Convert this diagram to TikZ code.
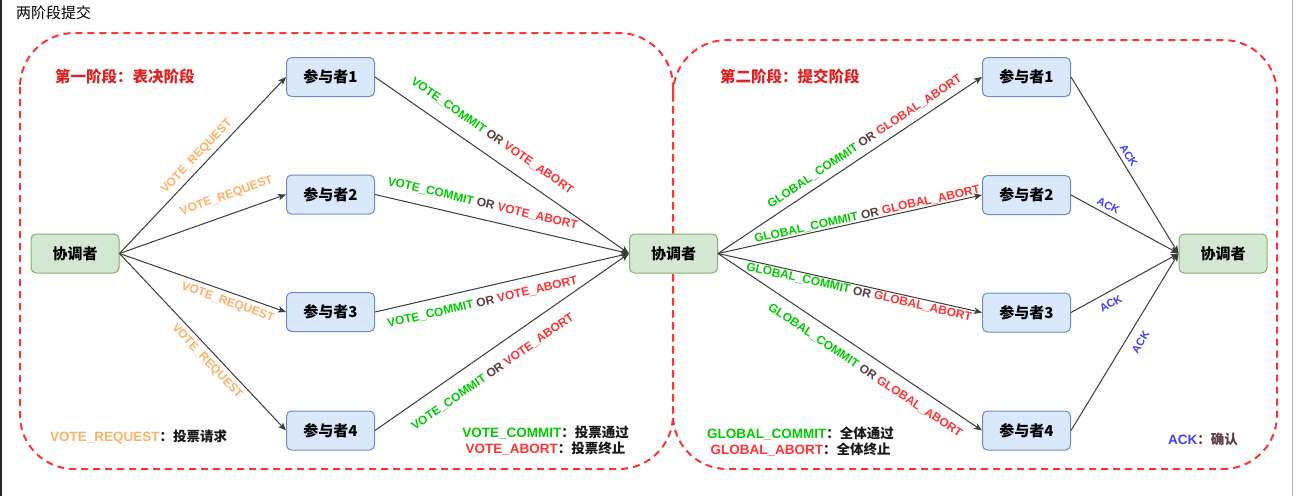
\documentclass[tikz,border=0pt]{standalone}
\usepackage{fontspec}
\setmainfont{Liberation Sans}
\newfontfamily\cjk{Noto Sans CJK SC}
\usetikzlibrary{arrows.meta}
\definecolor{vr}{HTML}{FFB066}
\definecolor{vc}{HTML}{00CC00}
\definecolor{va}{HTML}{FF3333}
\definecolor{orc}{HTML}{5C3D3D}
\definecolor{ackc}{HTML}{4040FF}
\definecolor{stagered}{HTML}{FF3333}
\definecolor{stagetxt}{HTML}{DD2222}
\definecolor{pfill}{HTML}{DAE8FC}
\definecolor{pdraw}{HTML}{6C8EBF}
\definecolor{cfill}{HTML}{D5E8D4}
\definecolor{cdraw}{HTML}{82B366}
\definecolor{linec}{HTML}{3C3C3C}
\newcommand\voteor{{\color{vc}VOTE\_COMMIT} {\color{orc}OR} {\color{va}VOTE\_ABORT}}
\newcommand\globalor{{\color{vc}GLOBAL\_COMMIT} {\color{orc}OR} {\color{va}GLOBAL\_ABORT}}
\begin{document}
\begin{tikzpicture}[x=1pt,y=-1pt,
  part/.style={draw=pdraw,fill=pfill,rounded corners=5pt,line width=1pt,minimum width=88pt,minimum height=39pt,inner sep=0pt,font=\cjk\bfseries\fontsize{15}{18}\selectfont},
  coordbox/.style={draw=cdraw,fill=cfill,rounded corners=5pt,line width=1pt,minimum width=88pt,minimum height=39pt,inner sep=0pt,font=\cjk\bfseries\fontsize{15}{18}\selectfont},
  flow/.style={draw=linec,line width=1pt,-{Stealth[length=8pt,width=6.5pt,inset=2pt]}},
  lbl/.style={sloped,inner sep=0pt,font=\bfseries\fontsize{12}{14}\selectfont},
  acklbl/.style={sloped,inner sep=0pt,text=ackc,font=\bfseries\fontsize{11}{13}\selectfont},
  stagebox/.style={draw=stagered,line width=2pt,dash pattern=on 7pt off 5pt,rounded corners=54pt},
  stagetitle/.style={anchor=west,inner sep=0pt,text=stagetxt,font=\cjk\bfseries\fontsize{15.5}{18}\selectfont},
  legend/.style={inner sep=0pt,font=\bfseries\fontsize{13.5}{16}\selectfont}
]
\useasboundingbox (0,0) rectangle (1296,496);
\fill[white] (0,0) rectangle (1296,496);
\draw[black!85,line width=2pt] (1,0) -- (1,496);
\draw[black!30,line width=1pt] (1292.5,0) -- (1292.5,496);

\node[anchor=west,inner sep=0pt,font=\cjk\fontsize{15}{18}\selectfont] (ttl) at (16,13) {两阶段提交};

\draw[stagebox] (20,33) rectangle (673,469);
\draw[stagebox] (673,40) rectangle (1277,469);

\node[stagetitle] (s1) at (55,77) {第一阶段：表决阶段};
\node[stagetitle] (s2) at (720,77) {第二阶段：提交阶段};

\node[coordbox] (c1) at (75,253.5) {协调者};
\node[coordbox] (c2) at (673.5,253.5) {协调者};
\node[coordbox] (c3) at (1223,253.5) {协调者};

\node[part] (a1) at (330.5,77) {参与者1};
\node[part] (a2) at (330.5,194.5) {参与者2};
\node[part] (a3) at (330.5,312) {参与者3};
\node[part] (a4) at (330.5,430.5) {参与者4};

\node[part] (b1) at (1026.5,77) {参与者1};
\node[part] (b2) at (1026.5,195) {参与者2};
\node[part] (b3) at (1026.5,312.5) {参与者3};
\node[part] (b4) at (1026.5,430.5) {参与者4};

% phase 1 requests
\draw[flow] (c1.east) -- node[lbl,pos=0.51,above=4.5pt,text=vr] {VOTE\_REQUEST} (a1.west);
\draw[flow] (c1.east) -- node[lbl,pos=0.68,above=12.5pt,text=vr] {VOTE\_REQUEST} (a2.west);
\draw[flow] (c1.east) -- node[lbl,pos=0.67,below=4.5pt,text=vr] {VOTE\_REQUEST} (a3.west);
\draw[flow] (c1.east) -- node[lbl,pos=0.57,below=4.5pt,text=vr] {VOTE\_REQUEST} (a4.west);

% phase 1 votes
\draw[flow] (a1.east) -- node[lbl,pos=0.42,above=13pt] {\voteor} (c2.west);
\draw[flow] (a2.east) -- node[lbl,pos=0.41,above=10pt] {\voteor} (c2.west);
\draw[flow] (a3.east) -- node[lbl,pos=0.41,below=9.5pt] {\voteor} (c2.west);
\draw[flow] (a4.east) -- node[lbl,pos=0.42,below=14pt] {\voteor} (c2.west);

% phase 2 decisions
\draw[flow] (c2.east) -- node[lbl,pos=0.58,above=6pt] {\globalor} (b1.west);
\draw[flow] (c2.east) -- node[lbl,pos=0.57,above=0.5pt] {\globalor} (b2.west);
\draw[flow] (c2.east) -- node[lbl,pos=0.54,below=1.5pt] {\globalor} (b3.west);
\draw[flow] (c2.east) -- node[lbl,pos=0.59,below=10pt] {\globalor} (b4.west);

% acks
\draw[flow] (b1.east) -- node[acklbl,pos=0.47,above=4pt] {ACK} (c3.west);
\draw[flow] (b2.east) -- node[acklbl,pos=0.31,above=4pt] {ACK} (c3.west);
\draw[flow] (b3.east) -- node[acklbl,pos=0.32,below=7pt] {ACK} (c3.west);
\draw[flow] (b4.east) -- node[acklbl,pos=0.54,below=9pt] {ACK} (c3.west);

% legends
\node[legend,anchor=west] (lg1) at (50,437) {{\color{vr}VOTE\_REQUEST}{\cjk\color{black!90}：投票请求}};
\node[legend,align=center] (lg2) at (545.5,441) {{\color{vc}VOTE\_COMMIT}{\cjk\color{black!90}：投票通过}\\{\color{va}VOTE\_ABORT}{\cjk\color{black!90}：投票终止}};
\node[legend,align=center] (lg3) at (800.5,441) {{\color{vc}GLOBAL\_COMMIT}{\cjk\color{black!90}：全体通过}\\{\color{va}GLOBAL\_ABORT}{\cjk\color{black!90}：全体终止}};
\node[legend,anchor=west] (lg4) at (1168,439) {{\color{ackc}ACK}{\cjk\color{orc}：确认}};
\end{tikzpicture}
\end{document}
